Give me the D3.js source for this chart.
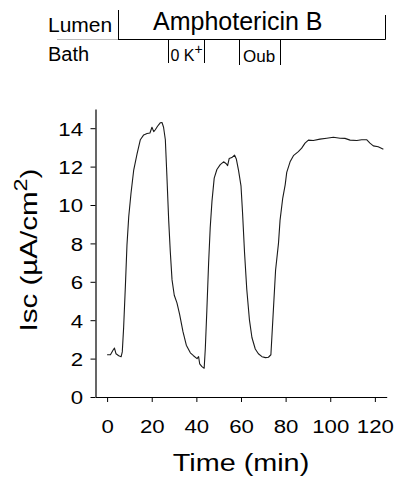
<!DOCTYPE html>
<html>
<head>
<meta charset="utf-8">
<script src="https://cdn.jsdelivr.net/npm/d3@7"></script>
<style>
  html, body { margin: 0; padding: 0; background: #fff; }
  svg { display: block; font-family: "Liberation Sans", Arial, Helvetica, sans-serif; }
</style>
</head>
<body>
<svg id="chart" width="396" height="479"></svg>
<script>
// ---- data ----
const times = [0, 1.5, 2.7, 3.3, 4, 5.2, 6.3, 6.8, 7.4, 8.2, 8.9, 9.7, 10.7, 11.9, 13.4, 14.9, 16.4, 17.9, 19.2, 20.1, 20.9, 21.6, 22.6, 23.8, 24.6, 25.3, 26.1, 26.8, 27.6, 28.3, 29.1, 30.1, 31.3, 32.5, 34, 35.5, 37.3, 38.7, 40.3, 41, 41.5, 42.5, 43.5, 44, 44.7, 45.5, 46.2, 47, 48, 49.2, 50.7, 52.2, 53.4, 54, 54.7, 55.9, 57.1, 57.9, 58.9, 60, 60.7, 61.6, 62.6, 63.8, 64.9, 66.4, 67.8, 69.4, 71, 72.3, 73.4, 74.5, 75.5, 76.8, 77.5, 78.7, 79.8, 80.5, 82, 83.5, 85.7, 87.2, 88.7, 90.2, 92.4, 95.4, 98.4, 101.4, 104.4, 106.6, 108.9, 111.9, 114.1, 116.3, 117.8, 119.3, 121.5, 123.8];
const isc = [2.2, 2.2, 2.45, 2.55, 2.25, 2.15, 2.1, 2.35, 3.6, 5.8, 7.9, 9.4, 10.6, 11.8, 12.65, 13.4, 13.65, 13.72, 13.75, 14.05, 13.82, 13.92, 14.1, 14.28, 14.3, 14.05, 13.4, 11.5, 9.2, 7.6, 6.1, 5.3, 4.9, 4.3, 3.4, 2.7, 2.3, 2.15, 2.0, 2.1, 1.72, 1.58, 1.5, 2.5, 4.5, 7.0, 8.8, 10.2, 11.4, 11.85, 12.1, 12.25, 12.15, 12.05, 12.42, 12.47, 12.6, 12.4, 11.8, 11.0, 9.6, 7.5, 5.6, 4.0, 3.1, 2.5, 2.25, 2.1, 2.05, 2.07, 2.2, 4.5, 6.6, 8.0, 9.2, 10.35, 11.05, 11.7, 12.25, 12.57, 12.78, 12.96, 13.22, 13.38, 13.36, 13.43, 13.48, 13.53, 13.48, 13.47, 13.38, 13.36, 13.4, 13.4, 13.22, 13.08, 13.03, 12.9];
const xTicks = [0, 20, 40, 60, 80, 100, 120];
const yTicks = [0, 2, 4, 6, 8, 10, 12, 14];
const xLabel = "Time (min)";
const yLabelMain = "Isc (\u00B5A/cm";
const yLabelSup = "2";
const lumenLabel = "Lumen";
const bathLabel = "Bath";
const lumenAgent = "Amphotericin B";
const bathAgents = ["0 K", "Oub"];

// ---- layout ----
const svg = d3.select("#chart");
const x = d3.scaleLinear().domain([-5.2, 125.3]).range([95.5, 386.7]);
const y = d3.scaleLinear().domain([0, 15]).range([397, 109]);

// x axis
const gx = svg.append("g").attr("transform", `translate(0,${y(0)})`)
  .call(d3.axisBottom(x).tickValues(xTicks).tickSize(5).tickSizeOuter(0).tickFormat(d3.format("d")));
gx.select(".domain").attr("stroke", "#000").attr("stroke-width", 1.2);
gx.selectAll(".tick line").attr("stroke", "#000");
gx.selectAll(".tick text")
  .attr("y", 0).attr("dy", 0)
  .attr("transform", "translate(0,36) scale(1.17,1)")
  .attr("font-size", 19).attr("fill", "#000")
  .attr("font-family", "Liberation Sans, Arial, sans-serif");

// y axis
const gy = svg.append("g").attr("transform", `translate(${x.range()[0]},0)`)
  .call(d3.axisLeft(y).tickValues(yTicks).tickSize(5).tickSizeOuter(0).tickFormat(d3.format("d")));
gy.select(".domain").attr("stroke", "#000").attr("stroke-width", 1.2);
gy.selectAll(".tick line").attr("stroke", "#000");
gy.selectAll(".tick text")
  .attr("x", 0).attr("dy", "0.36em")
  .attr("transform", "translate(-12.5,0) scale(1.17,1)")
  .attr("font-size", 19).attr("fill", "#000")
  .attr("font-family", "Liberation Sans, Arial, sans-serif");

// curve
const line = d3.line().x((d, i) => x(times[i])).y(d => y(d));
svg.append("path").datum(isc)
  .attr("d", line)
  .attr("fill", "none")
  .attr("stroke", "#1a1a1a")
  .attr("stroke-width", 1.1)
  .attr("stroke-linejoin", "round");

// axis titles
svg.append("text")
  .attr("transform", `translate(${x(60)},471) scale(1.2,1)`)
  .attr("text-anchor", "middle")
  .attr("font-size", 24)
  .text(xLabel);

const yl = svg.append("text")
  .attr("transform", "translate(37,250) rotate(-90) scale(1.23,1)")
  .attr("text-anchor", "middle")
  .attr("font-size", 24);
yl.append("tspan").text(yLabelMain);
yl.append("tspan").attr("font-size", 19).attr("dy", -10).text(yLabelSup);
yl.append("tspan").attr("dy", 10).text(")");

// ---- header: treatment bars ----
const hdr = svg.append("g").attr("stroke", "#000").attr("stroke-width", 1);
hdr.append("line").attr("x1", 57).attr("x2", 118).attr("y1", 39.5).attr("y2", 39.5).attr("stroke", "#bbb");
hdr.append("line").attr("x1", 118).attr("x2", 385.5).attr("y1", 39.5).attr("y2", 39.5);
hdr.append("line").attr("x1", 118.5).attr("x2", 118.5).attr("y1", 10).attr("y2", 39.5);
hdr.append("line").attr("x1", 385.5).attr("x2", 385.5).attr("y1", 15).attr("y2", 39.5);
// bath bars
[[168.5, 204.5, 63], [239.5, 280.5, 65]].forEach(([a, b, yb]) => {
  hdr.append("line").attr("x1", a).attr("x2", a).attr("y1", 39.5).attr("y2", yb);
  hdr.append("line").attr("x1", b).attr("x2", b).attr("y1", 39.5).attr("y2", yb);
});

svg.append("text").attr("x", 48).attr("y", 32).attr("font-size", 21).text(lumenLabel);
svg.append("text").attr("x", 48).attr("y", 61).attr("font-size", 20).text(bathLabel);
svg.append("text").attr("x", 153).attr("y", 29.5).attr("font-size", 25).text(lumenAgent);
const k = svg.append("text").attr("x", 170.5).attr("y", 61).attr("font-size", 16);
k.append("tspan").text(bathAgents[0]);
k.append("tspan").attr("font-size", 14).attr("dy", -7).text("+");
svg.append("text").attr("x", 243).attr("y", 61.5).attr("font-size", 17).text(bathAgents[1]);
</script>
</body>
</html>
